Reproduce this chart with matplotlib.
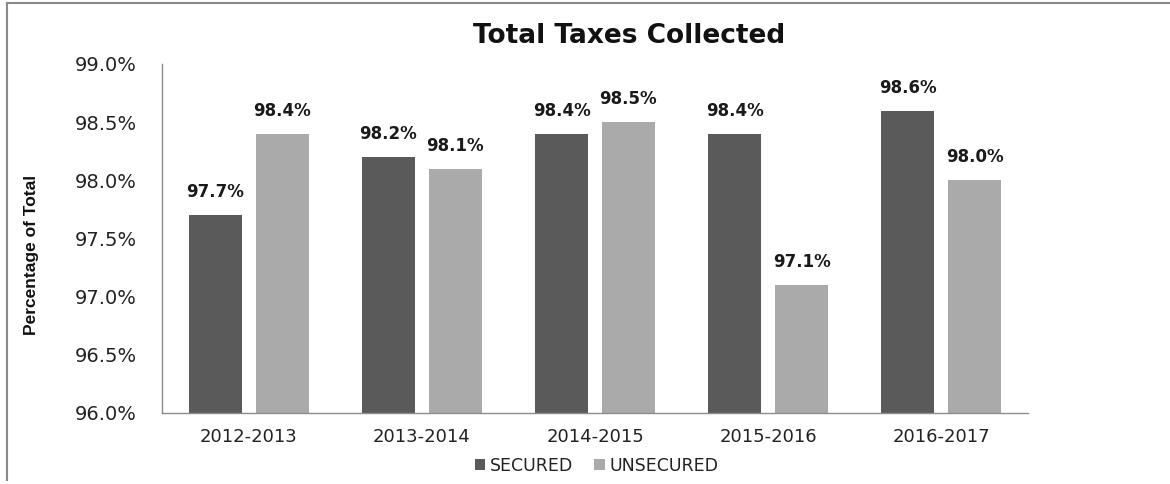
import matplotlib
matplotlib.use("Agg")
import matplotlib.pyplot as plt
import numpy as np
from matplotlib.lines import Line2D
from matplotlib.patches import Patch

years = ["2012-2013", "2013-2014", "2014-2015", "2015-2016", "2016-2017"]
secured = [97.7, 98.2, 98.4, 98.4, 98.6]
unsecured = [98.4, 98.1, 98.5, 97.1, 98.0]
y_ticks = [96.0, 96.5, 97.0, 97.5, 98.0, 98.5, 99.0]

SEC_COLOR = "#5a5a5a"
UNSEC_COLOR = "#aaaaaa"

fig = plt.figure(figsize=(11.7, 4.84), dpi=100)
ax = fig.add_axes([0.1385, 0.1467, 0.7401, 0.7211])

x = np.arange(len(years))
bw = 0.306
off = 0.193
b1 = ax.bar(x - off, secured, bw, bottom=0, color=SEC_COLOR, label="SECURED")
b2 = ax.bar(x + off, unsecured, bw, bottom=0, color=UNSEC_COLOR, label="UNSECURED")

for bars, vals in ((b1, secured), (b2, unsecured)):
    for rect, v in zip(bars, vals):
        ax.annotate(f"{v:.1f}%", (rect.get_x() + rect.get_width() / 2, v),
                    xytext=(0, 10), textcoords="offset points",
                    ha="center", va="bottom", fontsize=12, fontweight="bold",
                    family="DejaVu Sans", color="#1a1a1a")

ax.set_xlim(-0.5, len(years) - 0.5)
ax.set_ylim(96.0, 99.0)
ax.set_yticks(y_ticks)
ax.set_yticklabels([f"{t:.1f}%" for t in y_ticks], fontsize=14, color="#222222",
                   family="DejaVu Sans")
ax.set_xticks(x)
ax.set_xticklabels(years, fontsize=13, color="#222222", family="DejaVu Sans")
ax.tick_params(axis="y", length=0, pad=18)
ax.tick_params(axis="x", length=0, pad=11)
for s in ("top", "right"):
    ax.spines[s].set_visible(False)
for s in ("left", "bottom"):
    ax.spines[s].set_color("#8c8c8c")
    ax.spines[s].set_linewidth(1.0)

fig.text(0.027, 0.473, "Percentage of Total", rotation=90, ha="center", va="center",
         fontsize=12.5, fontweight="bold", family="Liberation Sans", color="#111111")

fig.text(0.5376, 0.926, "Total Taxes Collected", ha="center", va="center",
         fontsize=19, fontweight="bold", family="DejaVu Sans", color="#111111")

handles = [Patch(facecolor=SEC_COLOR, label="SECURED"),
           Patch(facecolor=UNSEC_COLOR, label="UNSECURED")]
fig.legend(handles=handles, loc="center", bbox_to_anchor=(0.51, 0.037), ncol=2,
           frameon=False, fontsize=12.5, handlelength=0.6, handleheight=0.6,
           handletextpad=0.3, columnspacing=1.2, labelcolor="#222222")

# outer frame lines along the left and top edges
fig.add_artist(Line2D([0.006, 0.006], [0.008, 0.994], color="#8a8a8a", lw=1.5,
                      transform=fig.transFigure))
fig.add_artist(Line2D([0.006, 1.0], [0.994, 0.994], color="#8a8a8a", lw=1.5,
                      transform=fig.transFigure))

fig.savefig("out.png", dpi=100)
